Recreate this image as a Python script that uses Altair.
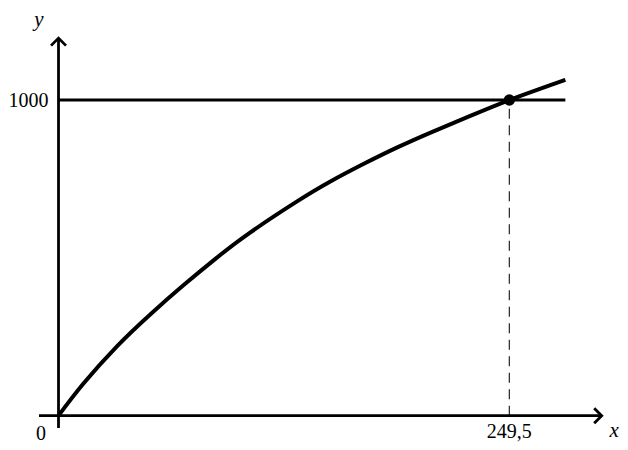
import altair as alt
import pandas as pd

# Curve values
curve_x = [0, 13.7, 32.2, 50.6, 69.1, 87.5, 106, 131.8, 150.2, 168.7, 187.2, 205.6, 225.9, 249.5, 280.5]
curve_y = [0, 101, 219, 320, 413, 500, 580, 678, 741, 797, 849, 896, 945, 1000, 1064]

# Intersection point
x0 = 249.5
y0 = 1000

# Axis extents (data units)
x_axis = [-10.8, 300.6]
y_axis = [-39, 1196]
h_line_end = 280.5

# Labels
label_text = ["1000", "0", "249,5"]
label_x = [0, 0, x0]
label_y = [y0, 0, 0]
label_dx = [-10, -17.5, 0]
label_dy = [1, 18, 16]
label_align = ["right", "center", "center"]

axis_names = ["x", "y"]
axis_name_x = [x_axis[1], 0]
axis_name_y = [0, y_axis[1]]
axis_name_dx = [12.5, -19.5]
axis_name_dy = [15.5, -18]

W, H = 612, 434
xs = alt.Scale(domain=[-27.95, 310.73], nice=False, zero=False)
ys = alt.Scale(domain=[-83.3, 1291.4], nice=False, zero=False)

curve_df = pd.DataFrame({"x": curve_x, "y": curve_y})
curve = alt.Chart(curve_df).mark_line(
    color="black", strokeWidth=4, interpolate="natural"
).encode(
    x=alt.X("x:Q", scale=xs, axis=None),
    y=alt.Y("y:Q", scale=ys, axis=None),
)

hline_df = pd.DataFrame({"x": [0], "x2": [h_line_end], "y": [y0]})
hline = alt.Chart(hline_df).mark_rule(color="black", strokeWidth=2.8).encode(
    x=alt.X("x:Q", scale=xs, axis=None), x2="x2:Q",
    y=alt.Y("y:Q", scale=ys, axis=None),
)

vdash_df = pd.DataFrame({"x": [x0], "y": [0], "y2": [y0]})
vdash = alt.Chart(vdash_df).mark_rule(
    color="#333333", strokeWidth=1.3, strokeDash=[10, 6.5]
).encode(
    x=alt.X("x:Q", scale=xs, axis=None),
    y=alt.Y("y:Q", scale=ys, axis=None), y2="y2:Q",
)

xaxis_df = pd.DataFrame({"x": [x_axis[0]], "x2": [x_axis[1] - 0.6], "y": [0]})
xaxis = alt.Chart(xaxis_df).mark_rule(color="black", strokeWidth=2.8).encode(
    x=alt.X("x:Q", scale=xs, axis=None), x2="x2:Q",
    y=alt.Y("y:Q", scale=ys, axis=None),
)

yaxis_df = pd.DataFrame({"x": [0], "y": [y_axis[0]], "y2": [y_axis[1] - 2]})
yaxis = alt.Chart(yaxis_df).mark_rule(color="black", strokeWidth=2.8).encode(
    x=alt.X("x:Q", scale=xs, axis=None),
    y=alt.Y("y:Q", scale=ys, axis=None), y2="y2:Q",
)

chevron = "M-1,1L0,0L1,1"
arrows_df = pd.DataFrame({"x": [x_axis[1], 0], "y": [0, y_axis[1]], "angle": [90, 0]})
arrows = alt.Chart(arrows_df).mark_point(
    shape=chevron, size=225, filled=False, color="black", strokeWidth=2.8, opacity=1
).encode(
    x=alt.X("x:Q", scale=xs, axis=None),
    y=alt.Y("y:Q", scale=ys, axis=None),
    angle=alt.Angle("angle:Q", scale=None),
)

dot_df = pd.DataFrame({"x": [x0], "y": [y0]})
dot = alt.Chart(dot_df).mark_point(
    filled=True, size=130, color="black", opacity=1
).encode(
    x=alt.X("x:Q", scale=xs, axis=None),
    y=alt.Y("y:Q", scale=ys, axis=None),
)

labels = []
for t, lx, ly, dx, dy, al in zip(label_text, label_x, label_y, label_dx, label_dy, label_align):
    d = pd.DataFrame({"x": [lx], "y": [ly], "t": [t]})
    labels.append(
        alt.Chart(d).mark_text(
            font="Liberation Serif", fontSize=20, color="black",
            align=al, baseline="middle", dx=dx, dy=dy
        ).encode(
            x=alt.X("x:Q", scale=xs, axis=None),
            y=alt.Y("y:Q", scale=ys, axis=None),
            text="t:N",
        )
    )

for t, lx, ly, dx, dy in zip(axis_names, axis_name_x, axis_name_y, axis_name_dx, axis_name_dy):
    d = pd.DataFrame({"x": [lx], "y": [ly], "t": [t]})
    labels.append(
        alt.Chart(d).mark_text(
            font="Liberation Serif", fontSize=21, fontStyle="italic", color="black",
            align="center", baseline="middle", dx=dx, dy=dy
        ).encode(
            x=alt.X("x:Q", scale=xs, axis=None),
            y=alt.Y("y:Q", scale=ys, axis=None),
            text="t:N",
        )
    )

chart = alt.layer(
    vdash, hline, xaxis, yaxis, arrows, curve, dot, *labels
).properties(
    width=W, height=H,
    autosize=alt.AutoSizeParams(type="none"),
    padding=0,
).configure_view(stroke=None)

chart.save("out.html", embed_options={"renderer": "svg", "actions": False})
